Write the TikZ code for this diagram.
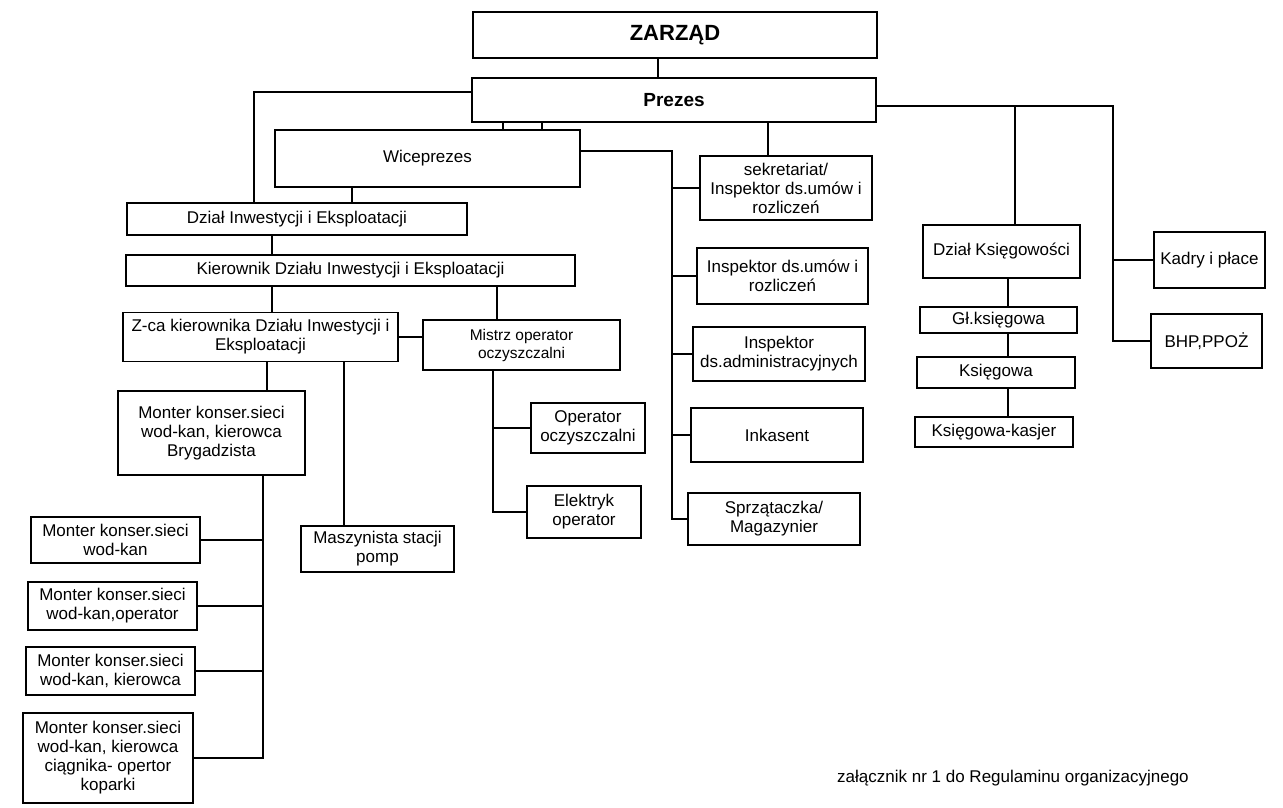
\documentclass[tikz,border=0pt]{standalone}
\usepackage{fontspec}
\setmainfont{Liberation Sans}
\begin{document}
\begin{tikzpicture}[x=1pt,y=-1pt,
  box/.style={draw, line width=1.3pt, inner sep=0pt, outer sep=0pt, align=center,
    font=\fontsize{17}{19}\selectfont},
  conn/.style={line width=1.3pt}]
\useasboundingbox (0,0) rectangle (1283,807);
% column markers
\coordinate (cZ) at (658,0);
\coordinate (cL) at (254,0);
\coordinate (cW1) at (503,0);
\coordinate (cW2) at (542,0);
\coordinate (cW3) at (352,0);
\coordinate (cD) at (272,0);
\coordinate (cM) at (497,0);
\coordinate (cB) at (267,0);
\coordinate (cP) at (344,0);
\coordinate (cV) at (263,0);
\coordinate (cO) at (493,0);
\coordinate (cS) at (672,0);
\coordinate (cSe) at (768,0);
\coordinate (cR) at (1113,0);
\coordinate (cK) at (1015,0);
\coordinate (cK2) at (1008,0);
% boxes
\node[box, minimum width=404pt, minimum height=46pt, font=\bfseries\fontsize{22}{26}\selectfont] (zarzad) at (675,35) {ZARZĄD};
\node[box, minimum width=404pt, minimum height=44pt, font=\bfseries\fontsize{19}{23}\selectfont] (prezes) at (674,100) {Prezes};
\node[box, minimum width=305pt, minimum height=57pt] (wice) at (427.5,158.5) {Wiceprezes};
\node[box, minimum width=340pt, minimum height=32pt] (dzialinw) at (297,219) {Dział Inwestycji i Eksploatacji};
\node[box, minimum width=449pt, minimum height=31pt] (kier) at (350.5,270.5) {Kierownik Działu Inwestycji i Eksploatacji};
\node[box, minimum width=275pt, minimum height=49pt] (zca) at (260.5,337) {Z-ca kierownika Działu Inwestycji i\\Eksploatacji};
\node[box, minimum width=197pt, minimum height=50pt, font=\fontsize{15.5}{18}\selectfont] (mistrz) at (521.5,345) {Mistrz operator\\oczyszczalni};
\node[box, minimum width=187pt, minimum height=84pt] (brygadz) at (211.5,433) {Monter konser.sieci\\wod-kan, kierowca\\Brygadzista};
\node[box, minimum width=153pt, minimum height=46pt] (maszyn) at (377.5,549) {Maszynista stacji\\pomp};
\node[box, minimum width=114pt, minimum height=50pt] (operator) at (588,428) {Operator\\oczyszczalni};
\node[box, minimum width=114pt, minimum height=52pt] (elektryk) at (584,512) {Elektryk\\operator};
\node[box, minimum width=172pt, minimum height=64pt] (sekret) at (786,188) {sekretariat/\\Inspektor ds.umów i\\rozliczeń};
\node[box, minimum width=171pt, minimum height=56pt] (insp1) at (782.5,276) {Inspektor ds.umów i\\rozliczeń};
\node[box, minimum width=172pt, minimum height=54pt] (insp2) at (779,354) {Inspektor\\ds.administracyjnych};
\node[box, minimum width=172pt, minimum height=54pt] (inkasent) at (777,435) {Inkasent};
\node[box, minimum width=172pt, minimum height=52pt] (sprzat) at (774,519) {Sprzątaczka/\\Magazynier};
\node[box, minimum width=157pt, minimum height=53pt] (dzialksieg) at (1001.5,251.5) {Dział Księgowości};
\node[box, minimum width=157pt, minimum height=26pt] (glksieg) at (998.5,320) {Gł.księgowa};
\node[box, minimum width=158pt, minimum height=31pt] (ksieg) at (996,372.5) {Księgowa};
\node[box, minimum width=158pt, minimum height=30pt] (kasjer) at (994,432) {Księgowa-kasjer};
\node[box, minimum width=111pt, minimum height=56pt] (kadry) at (1209.5,260) {Kadry i płace};
\node[box, minimum width=111pt, minimum height=54pt] (bhp) at (1206.5,341) {BHP,PPOŻ};
\node[box, minimum width=169pt, minimum height=46pt] (m1) at (115.5,540) {Monter konser.sieci\\wod-kan};
\node[box, minimum width=169pt, minimum height=48pt] (m2) at (112.5,606) {Monter konser.sieci\\wod-kan,operator};
\node[box, minimum width=169pt, minimum height=48pt] (m3) at (110.5,671) {Monter konser.sieci\\wod-kan, kierowca};
\node[box, minimum width=170pt, minimum height=90pt] (m4) at (108,758) {Monter konser.sieci\\wod-kan, kierowca\\ciągnika- opertor\\koparki};
\node[anchor=base, inner sep=0pt, font=\fontsize{17}{19}\selectfont] (footer) at (1013,782) {załącznik nr 1 do Regulaminu organizacyjnego};
% connectors
\draw[conn] (zarzad.south -| cZ) -- (prezes.north -| cZ);
\draw[conn] ([yshift=8pt]prezes.west) -| (dzialinw.north -| cL);
\draw[conn] (prezes.south -| cW1) -- (wice.north -| cW1);
\draw[conn] (prezes.south -| cW2) -- (wice.north -| cW2);
\draw[conn] (wice.south -| cW3) -- (dzialinw.north -| cW3);
\draw[conn] (dzialinw.south -| cD) -- (kier.north -| cD);
\draw[conn] (kier.south -| cD) -- (zca.north -| cD);
\draw[conn] (kier.south -| cM) -- (mistrz.north -| cM);
\draw[conn] (zca.east) -- (zca.east -| mistrz.west);
\draw[conn] (zca.south -| cB) -- (brygadz.north -| cB);
\draw[conn] (zca.south -| cP) -- (maszyn.north -| cP);
\draw[conn] (brygadz.south -| cV) |- (m4.east);
\draw[conn] (m1.east) -- (m1.east -| cV);
\draw[conn] (m2.east) -- (m2.east -| cV);
\draw[conn] (m3.east) -- (m3.east -| cV);
\draw[conn] (mistrz.south -| cO) |- (elektryk.west);
\draw[conn] (operator.west) -- (operator.west -| cO);
\draw[conn] ([yshift=7.5pt]wice.east) -| (sprzat.west -| cS) -- (sprzat.west);
\draw[conn] (sekret.west) -- (sekret.west -| cS);
\draw[conn] (insp1.west) -- (insp1.west -| cS);
\draw[conn] (insp2.west) -- (insp2.west -| cS);
\draw[conn] (inkasent.west) -- (inkasent.west -| cS);
\draw[conn] (prezes.south -| cSe) -- (sekret.north -| cSe);
\draw[conn] ([yshift=-6pt]prezes.east) -| (bhp.west -| cR) -- (bhp.west);
\draw[conn] (kadry.west) -- (kadry.west -| cR);
\draw[conn] ([yshift=-6pt]prezes.east -| cK) -- (dzialksieg.north -| cK);
\draw[conn] (dzialksieg.south -| cK2) -- (glksieg.north -| cK2);
\draw[conn] (glksieg.south -| cK2) -- (ksieg.north -| cK2);
\draw[conn] (ksieg.south -| cK2) -- (kasjer.north -| cK2);
\end{tikzpicture}
\end{document}
